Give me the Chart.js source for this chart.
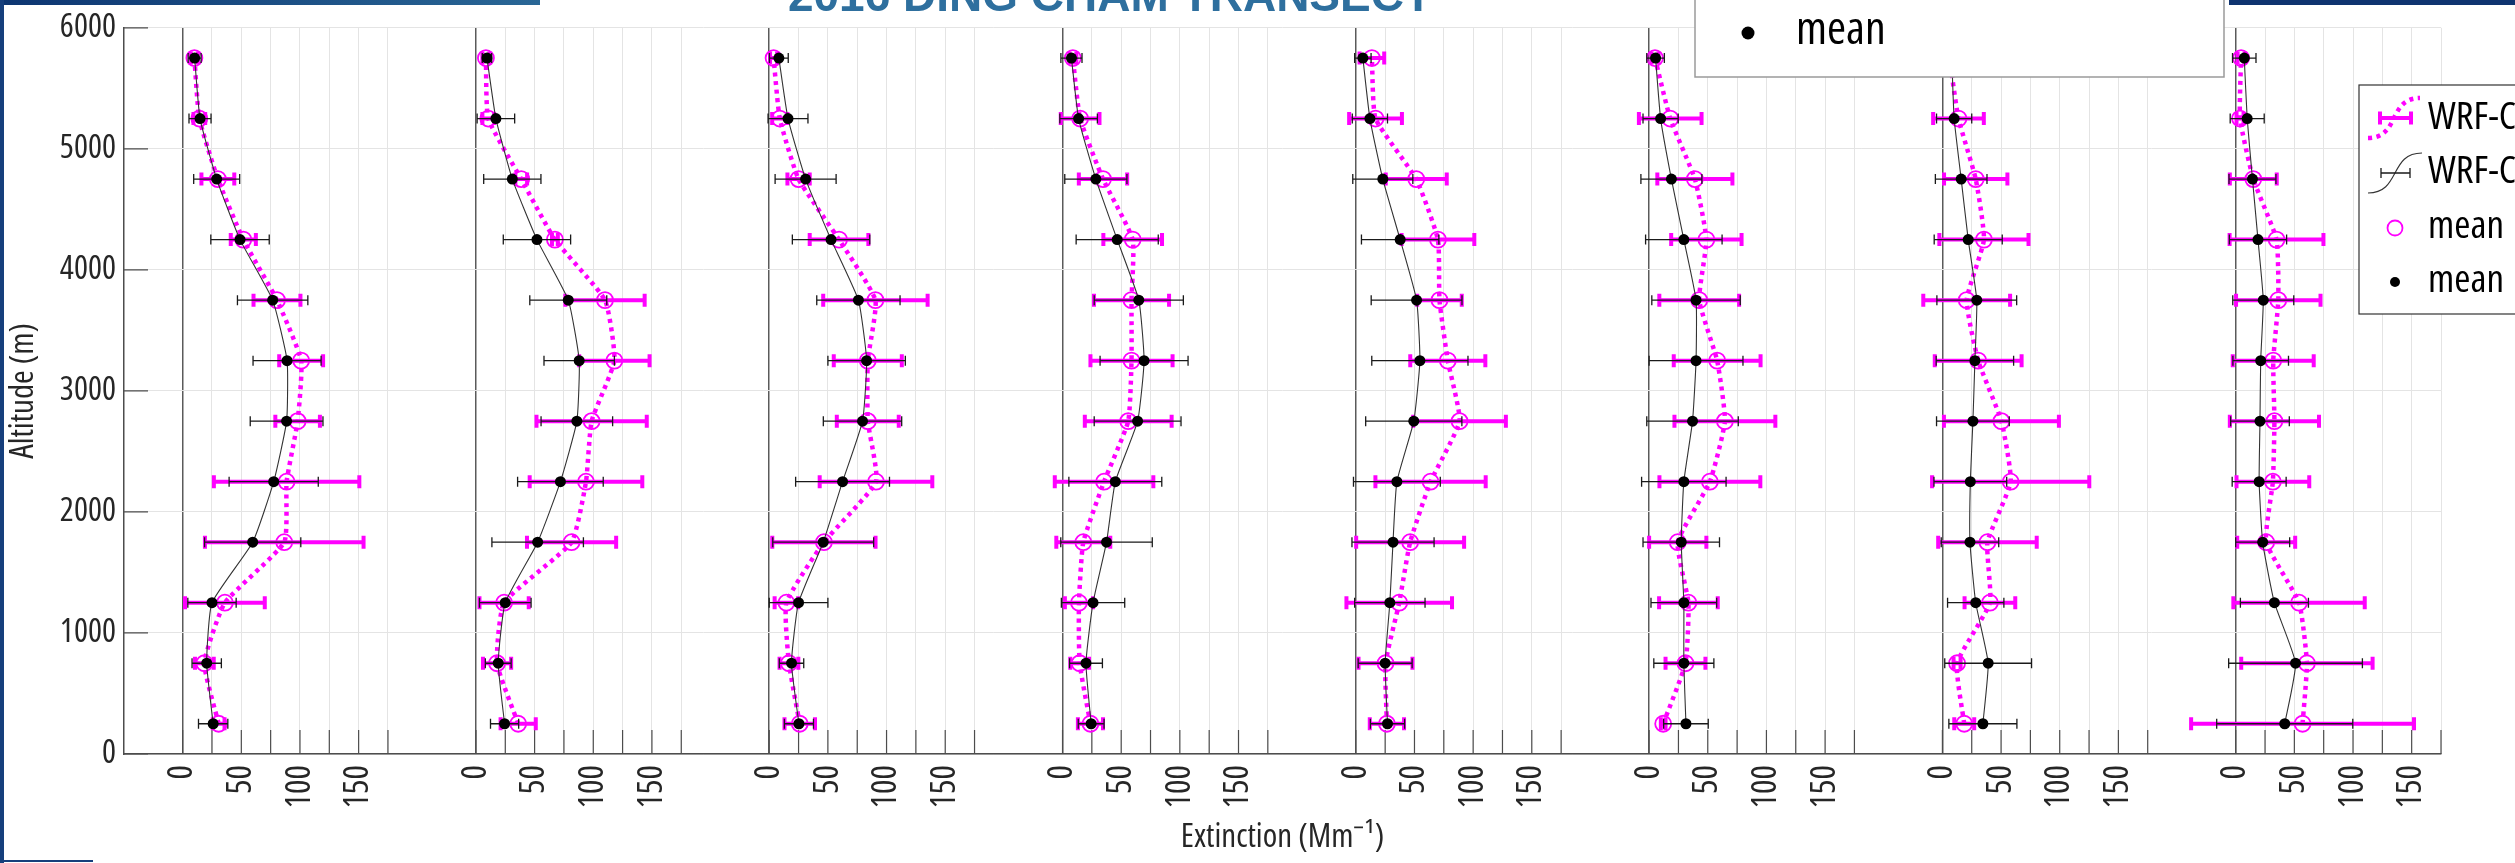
<!DOCTYPE html>
<html>
<head>
<meta charset="utf-8">
<script src="https://cdn.jsdelivr.net/npm/chart.js@4.4.1/dist/chart.umd.min.js"></script>
<style>
  html, body { margin: 0; padding: 0; background: #fff; }
  #wrap { width: 2515px; height: 863px; }
</style>
</head>
<body>
<div id="wrap"><canvas id="profiles" width="2515" height="863"></canvas></div>
<script>
// altitude bins (m), bottom to top
const altitudes = [250, 750, 1250, 1750, 2250, 2750, 3250, 3750, 4250, 4750, 5250, 5750];

// black profiles: mean and spread, one row per panel (left to right)
const blackMean = [
  [26, 20.5, 25, 59.7, 77.6, 88.6, 89, 76.7, 48.9, 29, 14.8, 10.2],
  [24.4, 19, 25, 52.6, 72, 86, 88, 78.7, 52, 31, 17, 9.4],
  [25.3, 19, 25, 46, 62.5, 79.5, 83, 76, 52.7, 31, 16, 8.2],
  [24.4, 20, 26, 37.5, 45, 64, 69.5, 65, 46.6, 28.4, 13.7, 7.6],
  [27, 25, 29, 31.7, 35, 49.4, 54.6, 51.8, 37.8, 23, 12, 6],
  [31.4, 29.6, 29.6, 27.4, 29.6, 37, 40, 40, 29.6, 19, 9.8, 5.5],
  [34.5, 39, 28.4, 23.5, 23.8, 26, 27.7, 29.3, 22, 16, 10, 8],
  [41.8, 51, 33, 23, 20, 20.7, 21.3, 23.5, 19, 14.3, 9.8, 7.3]
];
const blackErr = [
  [12.5, 12.5, 20.6, 41, 38, 31, 29, 30, 24.9, 19.6, 9.4, 5.5],
  [12, 11, 22, 39, 36.5, 30.5, 30, 32.8, 28.7, 24.4, 16, 4],
  [12.4, 10.4, 25, 43, 40, 33.4, 33, 35.5, 33, 26, 17, 8],
  [11, 14, 27, 39, 39.6, 37, 37.5, 38, 35, 26.5, 16, 9],
  [14.6, 23, 30, 35, 37, 41, 41, 38.7, 33, 25.6, 15, 7],
  [19, 25.6, 28, 32.6, 36, 39, 40, 37.7, 32.6, 26, 15, 7.5],
  [29, 37, 24, 24.5, 31, 31, 33, 34, 29, 22, 15, 5],
  [58, 57, 29, 23, 23, 25, 23.7, 26, 24.4, 20, 14.5, 10]
];

// magenta profiles: mean and spread
const magMean = [
  [30.7, 18.5, 36, 86.6, 88.6, 98, 101, 80.4, 51.7, 30, 14.2, 10],
  [36, 18, 24, 81.5, 93.8, 98.6, 118, 110, 67.3, 38.6, 10.5, 8.5],
  [26, 16.8, 14.6, 46.6, 91, 84, 84, 90.5, 59.5, 25, 9, 3.7],
  [23.8, 14.6, 14, 17.7, 35.4, 56, 58.8, 58.8, 59.8, 34.5, 15, 8.8],
  [26.5, 25.3, 37, 46.3, 63.7, 88.4, 78.4, 71.3, 70, 51.5, 16.8, 13.7],
  [12, 31, 33.5, 24.4, 51.8, 64.6, 58, 42.7, 48.8, 39, 18, 5],
  [18.6, 12.5, 40.5, 38.4, 58.2, 50.3, 30.5, 20.7, 35.4, 28.4, 13.7, 6],
  [57, 60.7, 54, 26, 31.7, 33, 32, 36.3, 34.8, 15, 3.7, 4.6]
];
const magErr = [
  [5, 8, 34, 67.6, 62, 19, 18.7, 20, 10.7, 14, 5, 3],
  [15, 12, 21, 38, 48, 47, 30, 33.8, 2.5, 5, 5, 3],
  [13, 8, 10, 44, 48, 26.4, 29, 44.5, 25, 9.5, 6.5, 3],
  [10.7, 8, 12, 23, 42, 37, 35, 32, 25, 20.6, 16.5, 3],
  [14.6, 23, 45, 46, 47, 39.5, 32, 19, 31, 26, 22.5, 10.5],
  [2, 17, 25, 24.4, 43, 43, 37, 34, 30, 32, 26.7, 3],
  [8.5, 3, 21.6, 42, 67, 49, 37, 37, 38, 27, 21.6, 3],
  [95, 56, 56, 24.7, 31, 38, 34.5, 36, 40, 20, 3, 3]
];

const panelShift = 250;                 // each profile sits 250 units right of the previous
const panelTicks = [0, 25, 50, 75, 100, 125, 150, 175];
const labelTicks = [0, 50, 100, 150];
const altTicks = [0, 1000, 2000, 3000, 4000, 5000, 6000];

const MAGENTA = '#ff00ff';

// the figure uses a narrow helvetica, look for something close
const measure = document.createElement('canvas').getContext('2d');
function textWidth(fontStr, txt) {
  measure.font = fontStr;
  return measure.measureText(txt).width;
}
function pickFont() {
  const base = '"Liberation Sans", Arial, sans-serif';
  const ref = textWidth('100px ' + base, '6000 mean Altitude');
  const tries = [
    ['"Liberation Sans Narrow", sans-serif', ''],
    ['"Noto Sans", sans-serif', 'condensed'],
    ['"Open Sans", sans-serif', 'condensed'],
    ['Roboto, sans-serif', 'condensed'],
    ['"DejaVu Sans", sans-serif', 'condensed']
  ];
  for (const [fam, st] of tries) {
    const w = textWidth((st ? st + ' ' : '') + '100px ' + fam, '6000 mean Altitude');
    if (w < 0.88 * ref) return { family: fam, stretch: st };
  }
  return { family: base, stretch: '' };
}
const NARROW = pickFont();
function fontStr(size) {
  return (NARROW.stretch ? NARROW.stretch + ' ' : '') + size + 'px ' + NARROW.family;
}
// size that makes txt come out at the measured width
function sizeFor(txt, width) {
  return Math.round(100 * width / textWidth(fontStr(100), txt));
}
function chartFont(size) {
  const f = { family: NARROW.family, size };
  if (NARROW.stretch) f.weight = NARROW.stretch;   // lands before the size in the font string
  return f;
}

const yTickSize = sizeFor('6000', 56);
const xTickSize = sizeFor('100', 44);
const axisTitleSize = sizeFor('Altitude (m)', 136);
const legendSize = sizeFor('WRF-C', 88);
const topLegendSize = sizeFor('mean', 90);

function localValue(v) {
  const p = Math.floor((v + 0.001) / panelShift);
  return Math.round(v - p * panelShift);
}

// build datasets, black first so it sits on top
const datasets = [];
for (let p = 0; p < blackMean.length; p++) {
  const off = p * panelShift;
  datasets.push({
    label: 'WRF-Chem',
    data: altitudes.map((a, i) => ({ x: off + blackMean[p][i], y: a })),
    errors: blackErr[p],
    errStyle: { color: '#1a1a1a', width: 1.3, cap: 10 },
    showLine: true,
    borderColor: '#333',
    borderWidth: 1.1,
    tension: 0.15,
    pointRadius: 5.5,
    pointBackgroundColor: '#000',
    pointBorderColor: '#000',
    pointBorderWidth: 0,
    order: 0
  });
  datasets.push({
    label: 'WRF-Chem',
    data: altitudes.map((a, i) => ({ x: off + magMean[p][i], y: a })),
    errors: magErr[p],
    errStyle: { color: MAGENTA, width: 4, cap: 13 },
    showLine: true,
    borderColor: MAGENTA,
    borderWidth: 4.5,
    borderDash: [4, 4.5],
    tension: 0.15,
    pointRadius: 8,
    pointBackgroundColor: 'rgba(0,0,0,0)',
    pointBorderColor: MAGENTA,
    pointBorderWidth: 1.8,
    order: 1
  });
}

// horizontal error bars drawn just under their own series
const errorBars = {
  id: 'errorBars',
  beforeDatasetDraw(chart, args) {
    const ds = chart.data.datasets[args.index];
    if (!ds.errors) return;
    const {ctx} = chart;
    const xs = chart.scales.x, ys = chart.scales.y;
    const st = ds.errStyle;
    ctx.save();
    ctx.strokeStyle = st.color;
    ctx.lineWidth = st.width;
    ctx.lineCap = 'butt';
    ds.data.forEach((pt, i) => {
      const e = ds.errors[i];
      const x1 = xs.getPixelForValue(pt.x - e);
      const x2 = xs.getPixelForValue(pt.x + e);
      const y = ys.getPixelForValue(pt.y);
      ctx.beginPath();
      ctx.moveTo(x1, y); ctx.lineTo(x2, y);
      ctx.moveTo(x1, y - st.cap / 2); ctx.lineTo(x1, y + st.cap / 2);
      ctx.moveTo(x2, y - st.cap / 2); ctx.lineTo(x2, y + st.cap / 2);
      ctx.stroke();
    });
    ctx.restore();
  }
};

// matlab style ticks pointing into the plot
const innerTicks = {
  id: 'innerTicks',
  beforeDatasetsDraw(chart) {
    const {ctx, chartArea} = chart;
    const xs = chart.scales.x, ys = chart.scales.y;
    ctx.save();
    ctx.strokeStyle = '#4d4d4d';
    ctx.lineWidth = 1.2;
    ctx.beginPath();
    xs.ticks.forEach(t => {
      const px = xs.getPixelForValue(t.value);
      ctx.moveTo(px, chartArea.bottom);
      ctx.lineTo(px, chartArea.bottom - 24);
    });
    ys.ticks.forEach(t => {
      const py = ys.getPixelForValue(t.value);
      ctx.moveTo(chartArea.left, py);
      ctx.lineTo(chartArea.left + 24, py);
    });
    ctx.stroke();
    ctx.restore();
  }
};

function sCurve(ctx, x0, y0, x1, y1) {
  const mx = (x0 + x1) / 2;
  ctx.beginPath();
  ctx.moveTo(x0, y0);
  ctx.bezierCurveTo(mx + 6, y0, mx - 6, y1, x1, y1);
  ctx.stroke();
}

function errGlyph(ctx, x0, x1, y, cap) {
  ctx.beginPath();
  ctx.moveTo(x0, y); ctx.lineTo(x1, y);
  ctx.moveTo(x0, y - cap / 2); ctx.lineTo(x0, y + cap / 2);
  ctx.moveTo(x1, y - cap / 2); ctx.lineTo(x1, y + cap / 2);
  ctx.stroke();
}

// slide frame, title and the two legend boxes
const decorations = {
  id: 'decorations',
  afterDraw(chart) {
    const {ctx} = chart;
    ctx.save();

    // slide title, mostly off the top edge
    ctx.fillStyle = '#2e6f9e';
    ctx.font = 'bold 46px "Liberation Sans", Arial, sans-serif';
    ctx.textAlign = 'center';
    ctx.textBaseline = 'alphabetic';
    ctx.fillText('2016 DING CHAM TRANSECT', 1110, 11);

    // slide frame bits
    const g = ctx.createLinearGradient(0, 0, 540, 0);
    g.addColorStop(0, '#0d3571');
    g.addColorStop(1, '#2a6796');
    ctx.fillStyle = g;
    ctx.fillRect(0, 0, 540, 5);
    ctx.fillStyle = '#0f3470';
    ctx.fillRect(2229, 0, 286, 5);
    ctx.fillStyle = '#163f7c';
    ctx.fillRect(0, 0, 4, 863);
    ctx.fillRect(0, 860, 93, 2);

    // top legend box (partly off canvas)
    ctx.fillStyle = '#fff';
    ctx.fillRect(1695, -10, 529, 87);
    ctx.strokeStyle = '#9a9a9a';
    ctx.lineWidth = 1.5;
    ctx.strokeRect(1695, -10, 529, 87);
    ctx.fillStyle = '#000';
    ctx.beginPath(); ctx.arc(1748, 33, 6.5, 0, Math.PI * 2); ctx.fill();
    ctx.font = fontStr(topLegendSize);
    ctx.textAlign = 'left';
    ctx.textBaseline = 'middle';
    ctx.fillText('mean', 1796, 31);

    // right legend box (runs off the right edge)
    ctx.fillStyle = '#fff';
    ctx.fillRect(2359, 85, 200, 229);
    ctx.strokeStyle = '#333';
    ctx.lineWidth = 1.2;
    ctx.strokeRect(2359, 85, 200, 229);

    ctx.strokeStyle = MAGENTA;
    ctx.lineWidth = 4.5;
    ctx.setLineDash([4, 4.5]);
    sCurve(ctx, 2368, 138, 2420, 98);
    ctx.setLineDash([]);
    ctx.lineWidth = 4;
    errGlyph(ctx, 2380, 2411, 118, 13);

    ctx.strokeStyle = '#333';
    ctx.lineWidth = 1.1;
    sCurve(ctx, 2368, 193, 2422, 153);
    ctx.strokeStyle = '#1a1a1a';
    ctx.lineWidth = 1.3;
    errGlyph(ctx, 2381, 2410, 173, 10);

    ctx.strokeStyle = MAGENTA;
    ctx.lineWidth = 1.8;
    ctx.beginPath(); ctx.arc(2395, 228, 7.5, 0, Math.PI * 2); ctx.stroke();
    ctx.fillStyle = '#000';
    ctx.beginPath(); ctx.arc(2395, 282, 5, 0, Math.PI * 2); ctx.fill();

    ctx.font = fontStr(legendSize);
    ctx.fillText('WRF-Chem', 2428, 118);
    ctx.fillText('WRF-Chem', 2428, 172);
    ctx.fillText('mean', 2428, 227);
    ctx.fillText('mean', 2428, 281);
    ctx.restore();
  }
};

new Chart(document.getElementById('profiles'), {
  type: 'scatter',
  data: { datasets },
  options: {
    responsive: false,
    animation: false,
    layout: { padding: { top: 20, right: 74, left: 0, bottom: 0 } },
    plugins: { legend: { display: false }, tooltip: { enabled: false } },
    scales: {
      x: {
        type: 'linear',
        min: -50,
        max: 1925,
        afterBuildTicks(scale) {
          const ticks = [];
          for (let p = 0; p < blackMean.length; p++) {
            panelTicks.forEach(t => ticks.push({ value: p * panelShift + t }));
          }
          scale.ticks = ticks;
        },
        afterFit(scale) { scale.height = 109; },
        ticks: {
          autoSkip: false,
          minRotation: 90,
          maxRotation: 90,
          padding: 11,
          color: '#262626',
          font: chartFont(xTickSize),
          callback(v) {
            const loc = localValue(v);
            return labelTicks.includes(loc) ? String(loc) : '';
          }
        },
        grid: {
          drawTicks: false,
          color: ctx => (ctx.tick && localValue(ctx.tick.value) === 0) ? '#5a5a5a' : '#e4e4e4',
          lineWidth: ctx => (ctx.tick && localValue(ctx.tick.value) === 0) ? 1.5 : 1
        },
        border: { display: true, color: '#4d4d4d', width: 1.5 },
        title: {
          display: true,
          text: 'Extinction (Mm⁻¹)',
          color: '#262626',
          font: chartFont(axisTitleSize),
          padding: { top: 0, bottom: 6 }
        }
      },
      y: {
        min: 0,
        max: 6000,
        afterBuildTicks(scale) { scale.ticks = altTicks.map(v => ({ value: v })); },
        afterFit(scale) { scale.width = 124; },
        ticks: {
          padding: 8,
          color: '#262626',
          font: chartFont(yTickSize),
          callback: v => String(v)
        },
        grid: { drawTicks: false, color: '#e4e4e4', lineWidth: 1 },
        border: { display: true, color: '#4d4d4d', width: 1.5 },
        title: {
          display: true,
          text: 'Altitude (m)',
          color: '#262626',
          font: chartFont(axisTitleSize),
          padding: { top: 4, bottom: 0 }
        }
      }
    }
  },
  plugins: [errorBars, innerTicks, decorations]
});
</script>
</body>
</html>
